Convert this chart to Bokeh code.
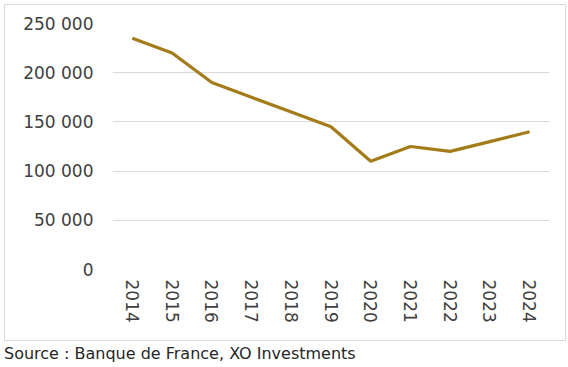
from bokeh.plotting import figure
from bokeh.models import FactorRange, Range1d, FixedTicker, Div
from bokeh.layouts import column
from bokeh.embed import file_html
from bokeh.resources import INLINE

years = ["2014", "2015", "2016", "2017", "2018", "2019", "2020", "2021", "2022", "2023", "2024"]
values = [235000, 220000, 190000, 175000, 160000, 145000, 110000, 125000, 120000, 130000, 140000]
y_ticks = [0, 50000, 100000, 150000, 200000, 250000]
y_tick_labels = ["0", "50 000", "100 000", "150 000", "200 000", "250 000"]
source_text = "Source : Banque de France, XO Investments"

FONT = "DejaVu Sans"
LINE_COLOR = "#A47B19"
TEXT_COLOR = "#404040"

p = figure(width=562, height=337, x_range=FactorRange(*years), y_range=Range1d(0, 250000),
           output_backend="svg", toolbar_location=None,
           min_border_left=107, min_border_right=18, min_border_top=18, min_border_bottom=73)
p.line(years, values, line_color=LINE_COLOR, line_width=3.2)

p.outline_line_color = None
p.xgrid.grid_line_color = None
p.ygrid.grid_line_color = "#D9D9D9"
p.ygrid.grid_line_width = 1

p.yaxis.ticker = FixedTicker(ticks=y_ticks)
p.yaxis.major_label_overrides = dict(zip(y_ticks, y_tick_labels))
for ax in (p.xaxis[0], p.yaxis[0]):
    ax.axis_line_color = None
    ax.major_tick_line_color = None
    ax.minor_tick_line_color = None
    ax.major_label_text_font = FONT
    ax.major_label_text_font_size = "17px"
    ax.major_label_text_color = TEXT_COLOR
p.yaxis.major_label_standoff = 13
p.xaxis.major_label_standoff = 4
p.xaxis.major_label_orientation = "vertical"
p.styles = {"border": "1px solid #D9D9D9", "box-sizing": "border-box"}

div = Div(text=source_text, width=562, height=20, margin=(2, 0, 0, 0),
          styles={"font-family": FONT, "font-size": "16px", "color": "#262626",
                  "white-space": "nowrap"})

layout = column(p, div, spacing=0, margin=(4, 0, 0, 4))
open("out.html", "w").write(file_html(layout, INLINE))
